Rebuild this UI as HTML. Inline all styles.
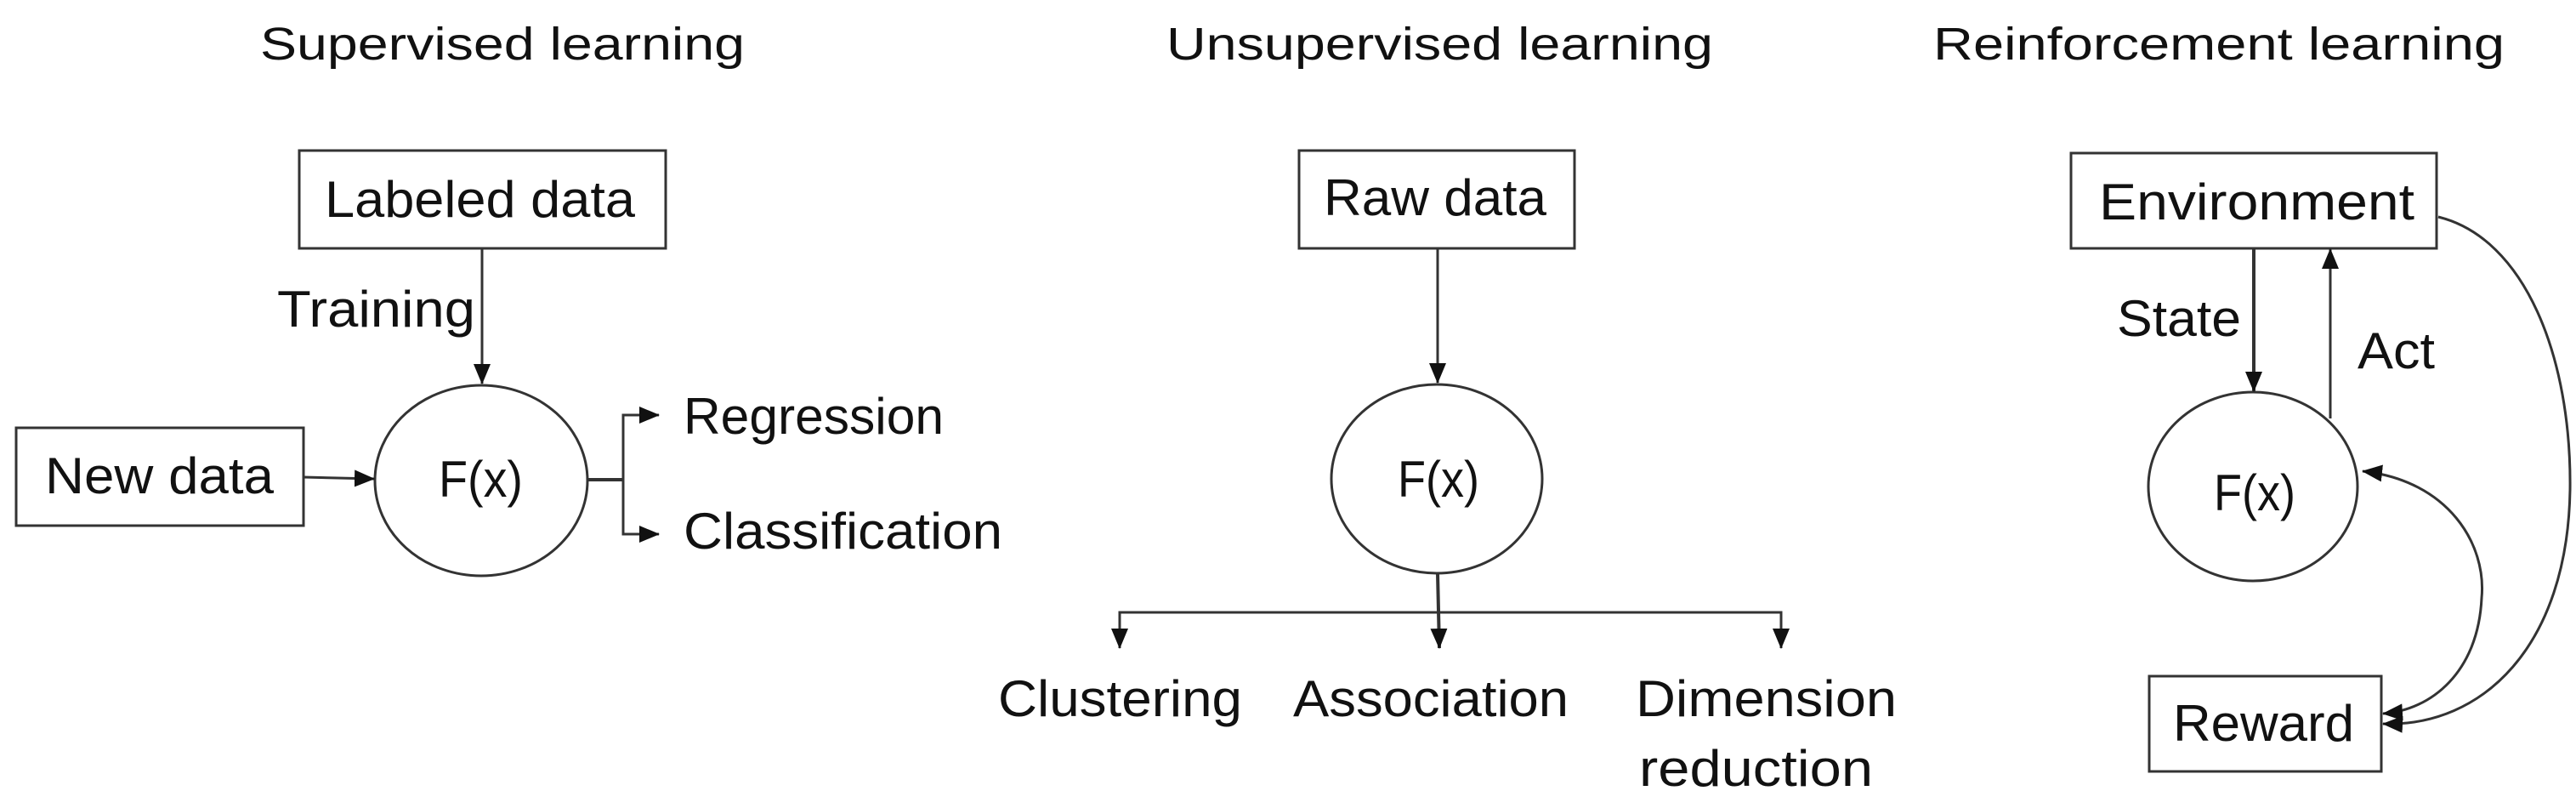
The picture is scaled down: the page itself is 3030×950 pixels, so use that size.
<!DOCTYPE html>
<html><head><meta charset="utf-8"><style>
html,body{margin:0;padding:0;background:#fff;}
svg{display:block;}
text{font-family:"Liberation Sans",sans-serif;fill:#111;}
.t{font-size:54px;}
.b{font-size:60px;}
</style></head><body>
<svg width="3030" height="950" viewBox="0 0 3030 950" xmlns="http://www.w3.org/2000/svg">
<defs>
<marker id="ah" markerUnits="userSpaceOnUse" markerWidth="28" markerHeight="24" refX="23" refY="10" orient="auto-start-reverse">
<path d="M0,0 L24,10 L0,20 Z" fill="#111"/>
</marker>
</defs>
<g stroke="#333" stroke-width="3" fill="none">
<rect x="352" y="177" width="431" height="115" fill="#fff"/>
<rect x="19" y="503" width="338" height="115" fill="#fff"/>
<ellipse cx="566" cy="565" rx="125" ry="112" fill="#fff"/>
<line x1="567" y1="292" x2="567" y2="451" marker-end="url(#ah)"/>
<line x1="357" y1="561" x2="440" y2="563" marker-end="url(#ah)"/>
<line x1="691" y1="564" x2="733" y2="564" stroke-width="4"/>
<polyline points="775,488 733,488 733,628 775,628"/>
<line x1="733" y1="488" x2="775" y2="488" marker-end="url(#ah)"/>
<line x1="733" y1="628" x2="775" y2="628" marker-end="url(#ah)"/>
<rect x="1528" y="177" width="324" height="115" fill="#fff"/>
<ellipse cx="1690" cy="563" rx="124" ry="111" fill="#fff"/>
<line x1="1691" y1="292" x2="1691" y2="450" marker-end="url(#ah)"/>
<line x1="1691" y1="674" x2="1693" y2="762" stroke-width="4" marker-end="url(#ah)"/>
<polyline points="1317,762 1317,720 2095,720 2095,762"/>
<line x1="1317" y1="720" x2="1317" y2="762" marker-end="url(#ah)"/>
<line x1="2095" y1="720" x2="2095" y2="762" marker-end="url(#ah)"/>
<rect x="2436" y="180" width="430" height="112" fill="#fff"/>
<rect x="2528" y="795" width="273" height="112" fill="#fff"/>
<ellipse cx="2650" cy="572" rx="123" ry="111" fill="#fff"/>
<line x1="2651" y1="292" x2="2651" y2="460" stroke-width="4" marker-end="url(#ah)"/>
<line x1="2741" y1="492" x2="2741" y2="293" marker-end="url(#ah)"/>
<path d="M2779,554 C2880,565 2925,640 2919,703 C2915,790 2860,835 2803,839" marker-start="url(#ah)" marker-end="url(#ah)"/>
<path d="M2868,255 C2970,280 3025,420 3023,576 C3020,760 2920,855 2803,851" marker-end="url(#ah)"/>
</g>
<text class="t" x="306" y="70" textLength="570" lengthAdjust="spacingAndGlyphs">Supervised learning</text>
<text class="t" x="1372" y="70" textLength="643" lengthAdjust="spacingAndGlyphs">Unsupervised learning</text>
<text class="t" x="2274" y="70" textLength="672" lengthAdjust="spacingAndGlyphs">Reinforcement learning</text>
<text class="b" x="382" y="255" textLength="365" lengthAdjust="spacingAndGlyphs">Labeled data</text>
<text class="b" x="326" y="384" textLength="233" lengthAdjust="spacingAndGlyphs">Training</text>
<text class="b" x="53" y="580" textLength="269" lengthAdjust="spacingAndGlyphs">New data</text>
<text class="b" x="516" y="584" textLength="99" lengthAdjust="spacingAndGlyphs">F(x)</text>
<text class="b" x="804" y="510" textLength="306" lengthAdjust="spacingAndGlyphs">Regression</text>
<text class="b" x="804" y="645" textLength="375" lengthAdjust="spacingAndGlyphs">Classification</text>
<text class="b" x="1557" y="253" textLength="262" lengthAdjust="spacingAndGlyphs">Raw data</text>
<text class="b" x="1644" y="584" textLength="96" lengthAdjust="spacingAndGlyphs">F(x)</text>
<text class="b" x="1174" y="842" textLength="287" lengthAdjust="spacingAndGlyphs">Clustering</text>
<text class="b" x="1521" y="842" textLength="324" lengthAdjust="spacingAndGlyphs">Association</text>
<text class="b" x="1924" y="842" textLength="307" lengthAdjust="spacingAndGlyphs">Dimension</text>
<text class="b" x="1928" y="924" textLength="275" lengthAdjust="spacingAndGlyphs">reduction</text>
<text class="b" x="2469" y="258" textLength="371" lengthAdjust="spacingAndGlyphs">Environment</text>
<text class="b" x="2490" y="395" textLength="146" lengthAdjust="spacingAndGlyphs">State</text>
<text class="b" x="2773" y="433" textLength="91" lengthAdjust="spacingAndGlyphs">Act</text>
<text class="b" x="2604" y="600" textLength="96" lengthAdjust="spacingAndGlyphs">F(x)</text>
<text class="b" x="2556" y="871" textLength="213" lengthAdjust="spacingAndGlyphs">Reward</text>
</svg>
</body></html>
